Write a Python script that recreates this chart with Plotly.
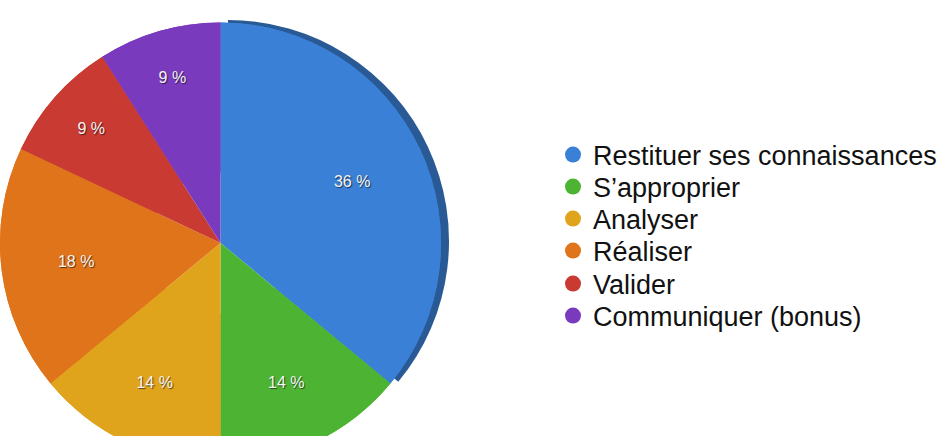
import plotly.graph_objects as go

categories = ["Restituer ses connaissances", "S\u2019approprier", "Analyser",
              "R\u00e9aliser", "Valider", "Communiquer (bonus)"]
values = [36, 14, 14, 18, 9, 9]
colors = ["#3a80d6", "#4cb432", "#e0a41c", "#e0741a", "#c83a32", "#7a3abe"]
side_color = "#2a5a96"

W, H = 948, 466
cx, cy, r = 220, 243, 221  # pixel placement of the pie
dx, dy = 8, -2             # offset of the dark "3D" rim
legend_rows = [155, 187, 219, 251, 284, 316]  # pixel row centres of the legend

def dom(cx, cy, r):
    return dict(x=[max(0, (cx - r) / W), min(1, (cx + r) / W)],
                y=[max(0, (H - (cy + r)) / H), min(1, (H - (cy - r)) / H)])

fig = go.Figure()

# dark rim behind the main slice (pseudo 3D edge)
fig.add_trace(go.Pie(
    values=values, labels=categories, sort=False, direction="clockwise",
    rotation=0, domain=dom(cx + dx, cy + dy, r), showlegend=False,
    marker=dict(colors=[side_color] + ["rgba(0,0,0,0)"] * (len(values) - 1),
                line=dict(width=0)),
    textinfo="none", hoverinfo="skip",
))

# full pie (fills the centre)
fig.add_trace(go.Pie(
    values=values, labels=categories, sort=False, direction="clockwise",
    rotation=0, domain=dom(cx, cy, r), showlegend=False,
    marker=dict(colors=colors, line=dict(width=0)),
    textinfo="none", hoverinfo="skip",
))

# same pie as a ring that carries the percentage labels
fig.add_trace(go.Pie(
    values=values, labels=categories, sort=False, direction="clockwise",
    rotation=0, domain=dom(cx, cy, r), showlegend=False, hole=0.32,
    marker=dict(colors=colors, line=dict(width=0)),
    texttemplate="%{value} %", textposition="inside",
    insidetextorientation="horizontal",
    textfont=dict(family="Liberation Sans, Arial, sans-serif", size=16,
                  color="#f4f4f4", shadow="1px 1px 1px rgba(0,0,0,0.6)"),
))

# legend entries with round markers, one legend per row
layout_legends = {}
for i, (name, c, yc) in enumerate(zip(categories, colors, legend_rows)):
    key = "legend" if i == 0 else f"legend{i + 1}"
    fig.add_trace(go.Scatter(x=[None], y=[None], mode="markers", name=name,
                             legend=key,
                             marker=dict(color=c, size=17, symbol="circle"),
                             xaxis="x", yaxis="y"))
    layout_legends[key] = dict(
        x=553 / W, y=1 - yc / H, xanchor="left", yanchor="middle",
        font=dict(family="Liberation Sans, Arial, sans-serif", size=27,
                  color="#111111"),
        itemsizing="trace", bgcolor="rgba(0,0,0,0)", borderwidth=0)

fig.update_layout(
    width=W, height=H,
    margin=dict(l=0, r=0, t=0, b=0),
    paper_bgcolor="white", plot_bgcolor="white",
    xaxis=dict(visible=False, domain=[0.99, 1]),
    yaxis=dict(visible=False, domain=[0.99, 1]),
    showlegend=True,
    **layout_legends,
)

fig.write_html("out.html")
